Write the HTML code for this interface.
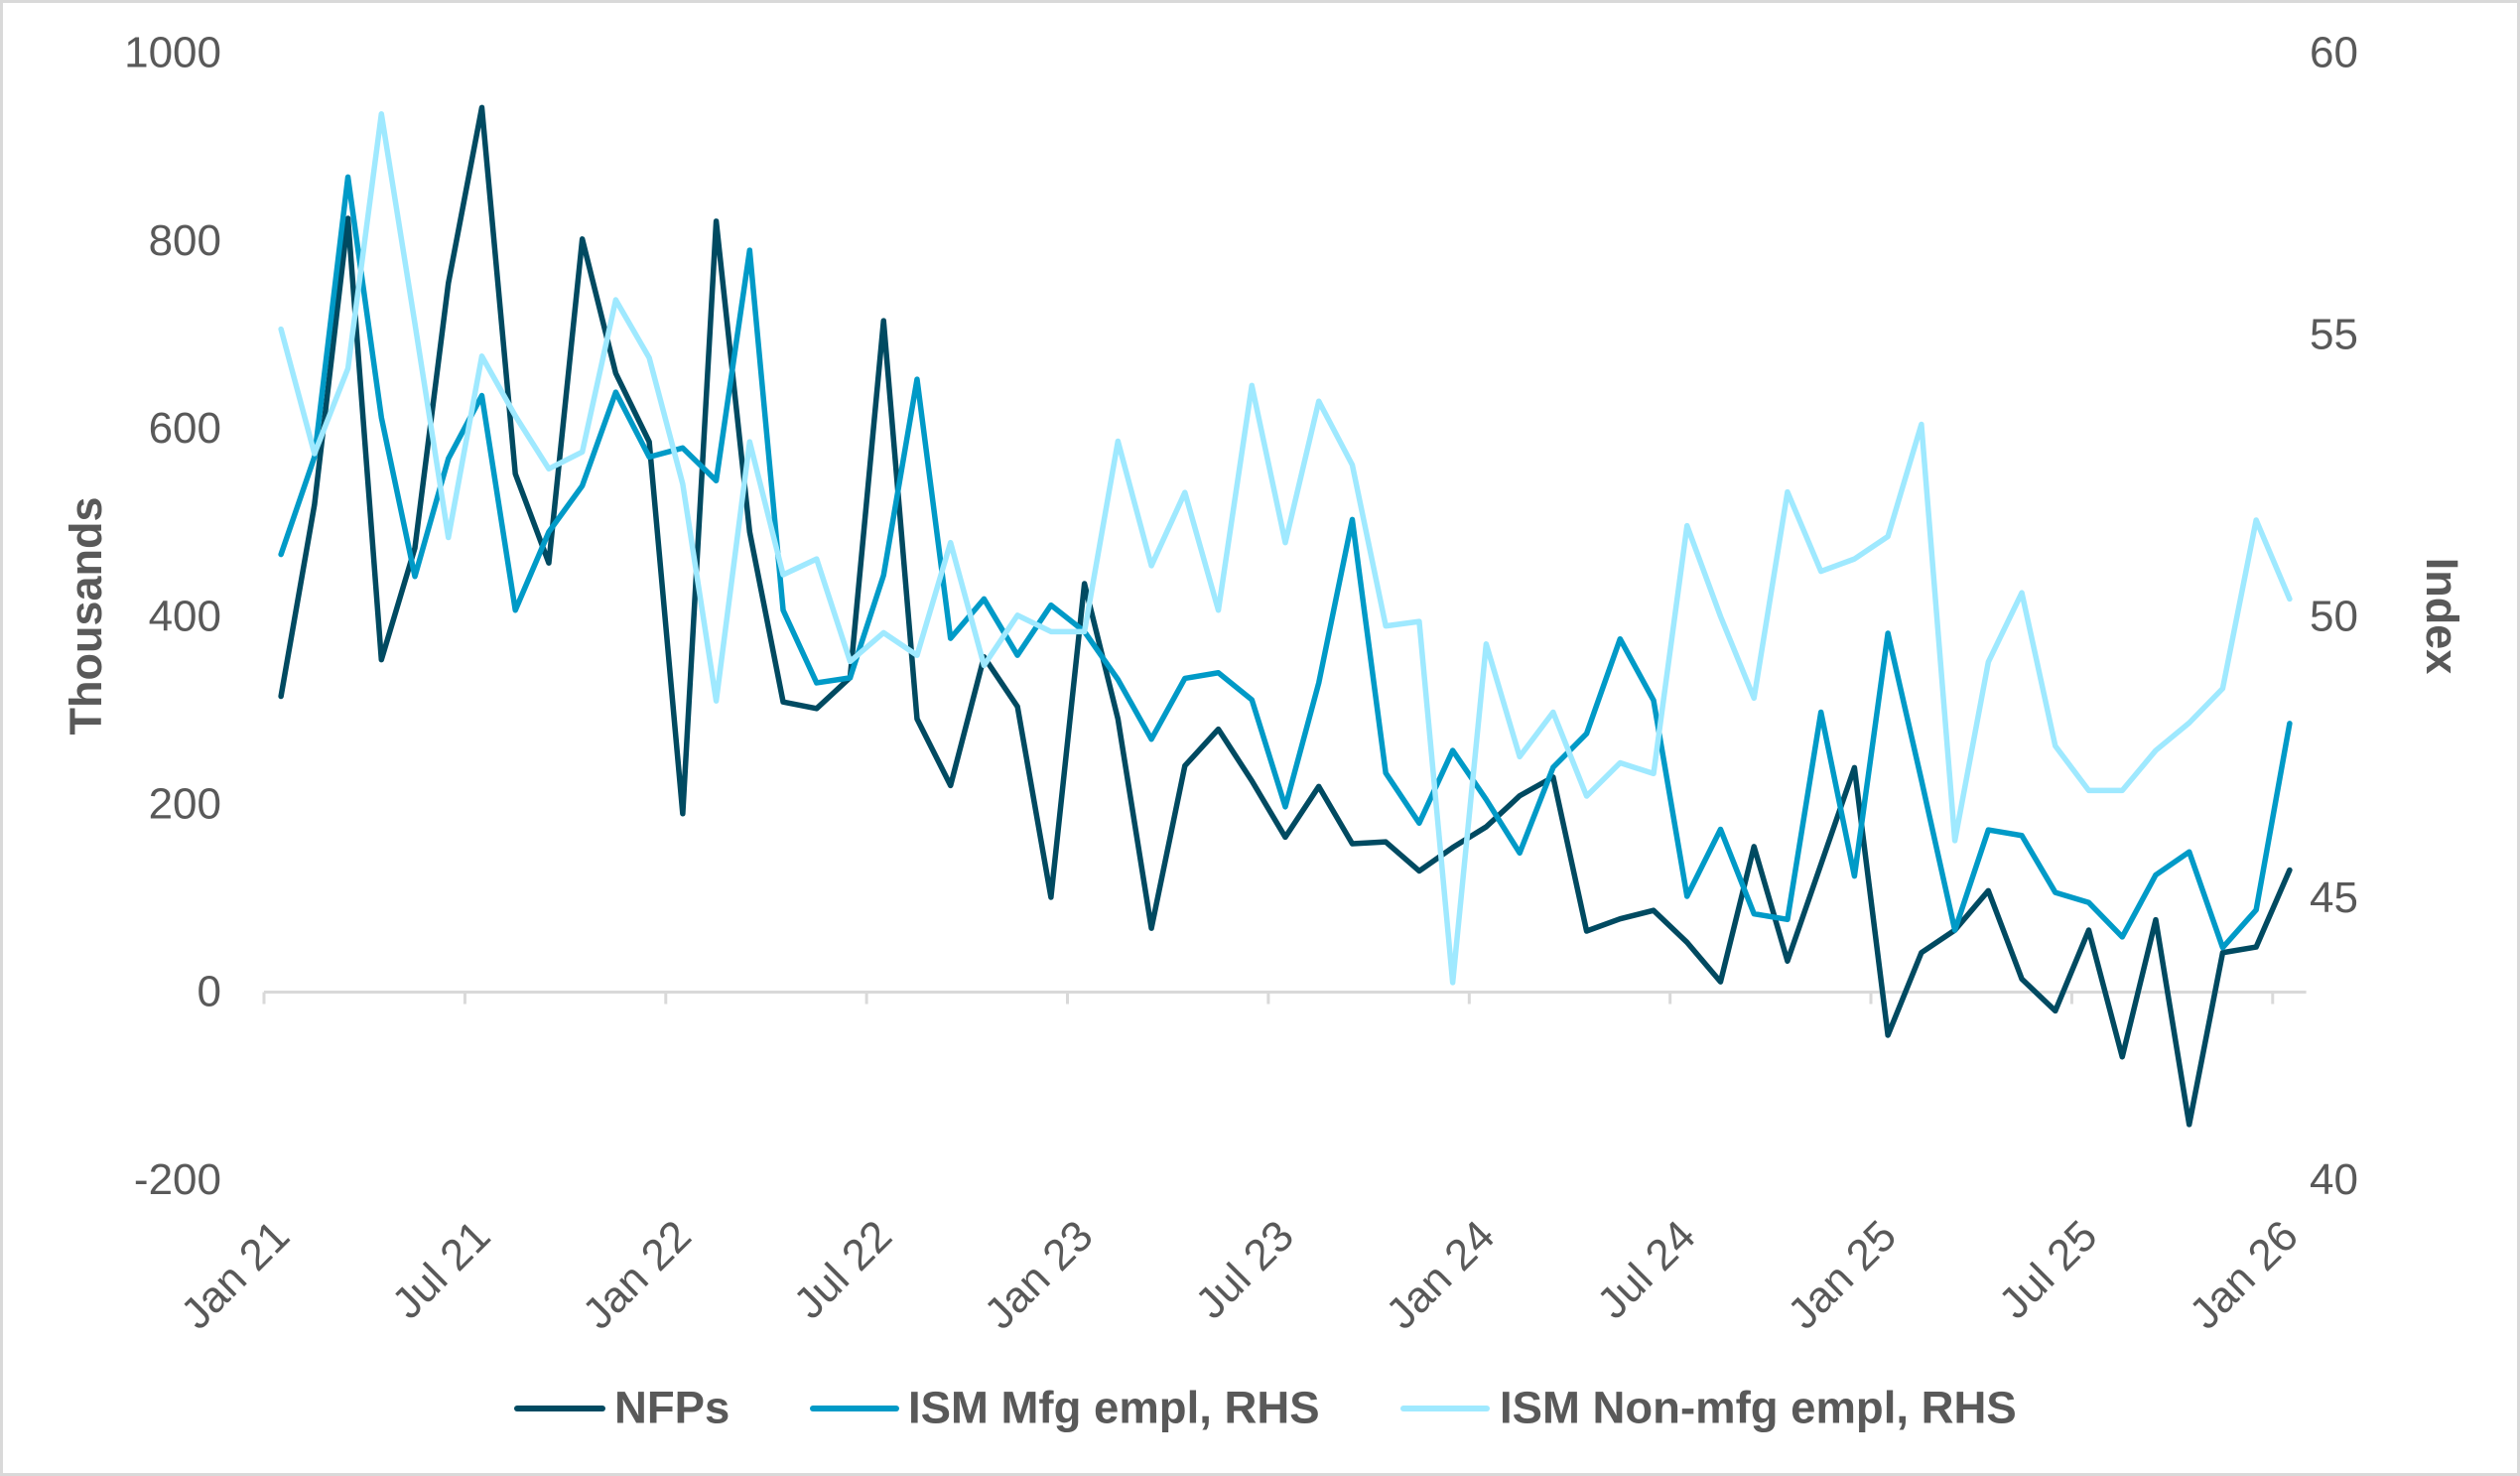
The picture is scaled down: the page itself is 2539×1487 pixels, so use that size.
<!DOCTYPE html>
<html>
<head>
<meta charset="utf-8">
<style>
  html, body { margin: 0; padding: 0; background: #ffffff; }
  svg { display: block; }
  .tk { font-family: "Liberation Sans", Arial, sans-serif; font-size: 44px; fill: #595959; }
  .tt { font-family: "Liberation Sans", Arial, sans-serif; font-size: 45px; font-weight: bold; fill: #595959; }
  .lg { font-family: "Liberation Sans", Arial, sans-serif; font-size: 45.5px; font-weight: bold; fill: #595959; }
</style>
</head>
<body>
<svg width="2539" height="1487" viewBox="0 0 2539 1487" xmlns="http://www.w3.org/2000/svg">
  <rect x="0" y="0" width="2539" height="1487" fill="#ffffff"/>
  <rect x="1.5" y="1.5" width="2536" height="1484" fill="none" stroke="#d9d9d9" stroke-width="3"/>

  <!-- Left axis labels -->
  <g class="tk" text-anchor="end">
    <text x="223" y="67.7">1000</text>
    <text x="223" y="256.9">800</text>
    <text x="223" y="446.1">600</text>
    <text x="223" y="635.3">400</text>
    <text x="223" y="824.5">200</text>
    <text x="223" y="1013.7">0</text>
    <text x="223" y="1202.9">-200</text>
  </g>

  <!-- Right axis labels -->
  <g class="tk" text-anchor="start">
    <text x="2327" y="67.7">60</text>
    <text x="2327" y="351.5">55</text>
    <text x="2327" y="635.3">50</text>
    <text x="2327" y="919.1">45</text>
    <text x="2327" y="1202.9">40</text>
  </g>

  <!-- Axis titles -->
  <text class="tt" text-anchor="middle" transform="translate(102,620.5) rotate(-90)">Thousands</text>
  <text class="tt" text-anchor="middle" transform="translate(2445,620.5) rotate(90)">Index</text>

  <!-- X axis line and ticks -->
  <line x1="266" y1="999.5" x2="2323.6" y2="999.5" stroke="#d9d9d9" stroke-width="3"/>
  <g stroke="#d9d9d9" stroke-width="3">
    <line x1="266" y1="999.5" x2="266" y2="1011.5"/>
    <line x1="468.4" y1="999.5" x2="468.4" y2="1011.5"/>
    <line x1="670.8" y1="999.5" x2="670.8" y2="1011.5"/>
    <line x1="873.1" y1="999.5" x2="873.1" y2="1011.5"/>
    <line x1="1075.5" y1="999.5" x2="1075.5" y2="1011.5"/>
    <line x1="1277.9" y1="999.5" x2="1277.9" y2="1011.5"/>
    <line x1="1480.3" y1="999.5" x2="1480.3" y2="1011.5"/>
    <line x1="1682.7" y1="999.5" x2="1682.7" y2="1011.5"/>
    <line x1="1885.0" y1="999.5" x2="1885.0" y2="1011.5"/>
    <line x1="2087.4" y1="999.5" x2="2087.4" y2="1011.5"/>
    <line x1="2289.8" y1="999.5" x2="2289.8" y2="1011.5"/>
  </g>

  <!-- X labels -->
  <g class="tk" text-anchor="end">
    <text transform="translate(294,1248) rotate(-45)">Jan 21</text>
    <text transform="translate(496.4,1248) rotate(-45)">Jul 21</text>
    <text transform="translate(698.8,1248) rotate(-45)">Jan 22</text>
    <text transform="translate(901.1,1248) rotate(-45)">Jul 22</text>
    <text transform="translate(1103.5,1248) rotate(-45)">Jan 23</text>
    <text transform="translate(1305.9,1248) rotate(-45)">Jul 23</text>
    <text transform="translate(1508.3,1248) rotate(-45)">Jan 24</text>
    <text transform="translate(1710.7,1248) rotate(-45)">Jul 24</text>
    <text transform="translate(1913,1248) rotate(-45)">Jan 25</text>
    <text transform="translate(2115.4,1248) rotate(-45)">Jul 25</text>
    <text transform="translate(2317.8,1248) rotate(-45)">Jan 26</text>
  </g>

  <!-- NFPs (left axis) -->
  <g transform="translate(283.1,999.5) scale(33.73,-0.946)">
    <polyline vector-effect="non-scaling-stroke" fill="none" stroke="#004A61" stroke-width="5.5" stroke-linejoin="round" stroke-linecap="round"
      points="0,315 1,519 2,824 3,354 4,473 5,755 6,942 7,552 8,457 9,802 10,659 11,586 12,190 13,821 14,490 15,309 16,302 17,335 18,715 19,291 20,220 21,357 22,304 23,101 24,435 25,291 26,68 27,241 28,280 29,225 30,165 31,219 32,158 33,160 34,129 35,154 36,176 37,209 38,229 39,65 40,78 41,87 42,53 43,11 44,155 45,33 46,136 47,239 48,-46 49,42 50,66 51,108 52,14 53,-20 54,66 55,-69 56,77 57,-141 58,42 59,48 60,130"/>
  </g>

  <!-- ISM Mfg empl (right axis) -->
  <g transform="translate(283.1,3458.5) scale(33.73,-56.75)">
    <polyline vector-effect="non-scaling-stroke" fill="none" stroke="#009AC7" stroke-width="5.5" stroke-linejoin="round" stroke-linecap="round"
      points="0,51.1 1,52.83 2,57.8 3,53.53 4,50.71 5,52.8 6,53.92 7,50.11 8,51.5 9,52.32 10,53.98 11,52.83 12,52.99 13,52.41 14,56.5 15,50.11 16,48.82 17,48.91 18,50.73 19,54.21 20,49.61 21,50.31 22,49.31 23,50.2 24,49.73 25,48.88 26,47.82 27,48.9 28,49.0 29,48.52 30,46.62 31,48.82 32,51.72 33,47.22 34,46.33 35,47.62 36,46.75 37,45.8 38,47.32 39,47.92 40,49.6 41,48.51 42,45.03 43,46.22 44,44.72 45,44.62 46,48.3 47,45.39 48,49.7 49,47.1 50,44.43 51,46.21 52,46.11 53,45.1 54,44.92 55,44.31 56,45.41 57,45.82 58,44.12 59,44.79 60,48.1"/>
  </g>

  <!-- ISM Non-mfg empl (right axis) -->
  <g transform="translate(283.1,3458.5) scale(33.73,-56.75)">
    <polyline vector-effect="non-scaling-stroke" fill="none" stroke="#9FE9FF" stroke-width="5.5" stroke-linejoin="round" stroke-linecap="round"
      points="0,55.1 1,52.89 2,54.4 3,58.92 4,55.2 5,51.4 6,54.62 7,53.56 8,52.62 9,52.92 10,55.62 11,54.59 12,52.35 13,48.5 14,53.1 15,50.74 16,51.02 17,49.2 18,49.71 19,49.31 20,51.31 21,49.13 22,50.02 23,49.73 24,49.73 25,53.11 26,50.9 27,52.2 28,50.11 29,54.1 30,51.31 31,53.82 32,52.69 33,49.83 34,49.91 35,43.5 36,49.51 37,47.51 38,48.3 39,46.81 40,47.4 41,47.21 42,51.61 43,50.0 44,48.55 45,52.21 46,50.8 47,51.02 48,51.42 49,53.41 50,46.02 51,49.19 52,50.42 53,47.7 54,46.91 55,46.91 56,47.62 57,48.11 58,48.72 59,51.71 60,50.31"/>
  </g>

  <!-- Legend -->
  <line x1="521" y1="1419" x2="607" y2="1419" stroke="#004A61" stroke-width="6" stroke-linecap="round"/>
  <text class="lg" x="619" y="1433.5">NFPs</text>
  <line x1="819" y1="1419" x2="903" y2="1419" stroke="#009AC7" stroke-width="6" stroke-linecap="round"/>
  <text class="lg" x="915" y="1433.5">ISM Mfg empl, RHS</text>
  <line x1="1414" y1="1419" x2="1498" y2="1419" stroke="#9FE9FF" stroke-width="6" stroke-linecap="round"/>
  <text class="lg" x="1511" y="1433.5">ISM Non-mfg empl, RHS</text>
</svg>
</body>
</html>
